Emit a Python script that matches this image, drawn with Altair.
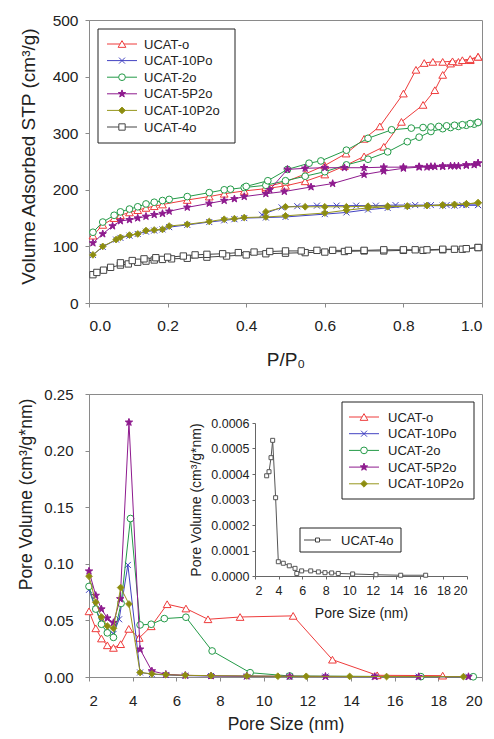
import altair as alt
import pandas as pd

# ---------------- data ----------------
names = ["UCAT-o", "UCAT-10Po", "UCAT-2o", "UCAT-5P2o", "UCAT-10P2o", "UCAT-4o"]

# Top panel: N2 isotherms (adsorption branch, desorption branch)
o_ads_p = [0.01, 0.035, 0.064, 0.08, 0.103, 0.124, 0.145, 0.166, 0.187, 0.25, 0.306, 0.344, 0.395, 0.45, 0.50, 0.55, 0.60, 0.65, 0.70, 0.75, 0.795, 0.85, 0.88, 0.90, 0.92, 0.94, 0.97, 0.99]
o_ads_v = [119, 138, 150, 155, 160, 164, 168, 171, 174, 182, 188, 193, 198, 202, 207, 215, 227, 242, 259, 276, 320, 350, 376, 403, 423, 426, 429, 435]
o_des_p = [0.99, 0.97, 0.95, 0.925, 0.90, 0.875, 0.853, 0.832, 0.80, 0.74, 0.70, 0.654, 0.60, 0.55, 0.50, 0.45]
o_des_v = [435, 431, 429, 427, 426, 426, 424, 412, 370, 312, 290, 264, 243, 228, 214, 205]

p10_ads_p = [0.01, 0.035, 0.069, 0.08, 0.103, 0.124, 0.145, 0.166, 0.187, 0.204, 0.25, 0.306, 0.344, 0.37, 0.395, 0.45, 0.50, 0.60, 0.655, 0.71, 0.76, 0.81, 0.86, 0.90, 0.93, 0.96, 0.99]
p10_ads_v = [85, 99, 112, 115, 119, 122, 126, 128, 130, 134, 138, 143, 146, 148, 150, 151, 152, 157, 160, 165, 168, 171, 172, 172, 172, 173, 173]
p10_des_p = [0.99, 0.95, 0.91, 0.87, 0.83, 0.78, 0.73, 0.68, 0.63, 0.58, 0.53, 0.49, 0.44]
p10_des_v = [173, 173, 173, 173, 173, 173, 172, 172, 172, 172, 171, 169, 156]

g_ads_p = [0.01, 0.035, 0.064, 0.08, 0.103, 0.124, 0.145, 0.166, 0.187, 0.204, 0.25, 0.306, 0.344, 0.36, 0.395, 0.45, 0.50, 0.55, 0.60, 0.655, 0.71, 0.76, 0.81, 0.84, 0.87, 0.90, 0.92, 0.94, 0.96, 0.98, 0.99]
g_ads_v = [125, 143, 155, 161, 166, 170, 175, 178, 181, 183, 188, 195, 200, 201, 204, 208, 216, 224, 232, 244, 254, 267, 285, 293, 303, 308, 310, 312, 314, 316, 319]
g_des_p = [0.99, 0.97, 0.95, 0.93, 0.91, 0.89, 0.87, 0.85, 0.82, 0.77, 0.71, 0.655, 0.59, 0.56, 0.505, 0.455, 0.40]
g_des_v = [319, 317, 315, 314, 313, 312, 311, 310, 309, 306, 291, 270, 251, 247, 236, 216, 206]

s_ads_p = [0.01, 0.035, 0.06, 0.08, 0.103, 0.124, 0.145, 0.166, 0.187, 0.204, 0.25, 0.306, 0.344, 0.37, 0.395, 0.45, 0.497, 0.565, 0.62, 0.70, 0.75, 0.80, 0.84, 0.86, 0.88, 0.90, 0.92, 0.94, 0.96, 0.98, 0.99]
s_ads_v = [106, 122, 136, 145, 147, 150, 153, 156, 158, 162, 169, 176, 181, 184, 188, 193, 197, 205, 211, 227, 233, 238, 240, 240, 241, 241, 242, 242, 243, 244, 247]
s_des_p = [0.99, 0.96, 0.93, 0.90, 0.87, 0.84, 0.80, 0.75, 0.70, 0.65, 0.60, 0.55, 0.505, 0.46]
s_des_v = [247, 244, 242, 242, 241, 241, 240, 240, 239, 239, 239, 238, 236, 200]

d_ads_p = [0.01, 0.035, 0.069, 0.08, 0.103, 0.124, 0.145, 0.166, 0.187, 0.204, 0.25, 0.306, 0.344, 0.37, 0.395, 0.45, 0.50, 0.60, 0.655, 0.71, 0.76, 0.81, 0.86, 0.90, 0.93, 0.96, 0.99]
d_ads_v = [85, 100, 112, 116, 120, 122, 128, 129, 130, 136, 139, 144, 148, 149, 151, 152, 154, 159, 164, 168, 170, 171, 172, 173, 174, 175, 177]
d_des_p = [0.99, 0.96, 0.93, 0.90, 0.86, 0.81, 0.76, 0.71, 0.655, 0.60, 0.55, 0.50, 0.45]
d_des_v = [177, 175, 174, 173, 172, 171, 171, 171, 170, 170, 170, 170, 161]

b_ads_p = [0.01, 0.02, 0.037, 0.055, 0.08, 0.10, 0.124, 0.145, 0.166, 0.187, 0.21, 0.25, 0.30, 0.35, 0.40, 0.45, 0.50, 0.55, 0.60, 0.65, 0.70, 0.75, 0.80, 0.85, 0.90, 0.95, 0.99]
b_ads_v = [50, 54, 58, 63, 67, 69, 72, 74, 76, 77, 78, 79, 81, 83, 85, 87, 88, 89, 90, 91, 92, 92, 93, 93, 94, 95, 98]
b_des_p = [0.99, 0.96, 0.93, 0.90, 0.86, 0.83, 0.80, 0.75, 0.70, 0.66, 0.62, 0.58, 0.54, 0.50, 0.46, 0.42, 0.38, 0.34, 0.30, 0.27, 0.24, 0.20, 0.17, 0.14, 0.11, 0.08]
b_des_v = [98, 96, 95, 95, 94, 94, 94, 94, 93, 93, 93, 93, 92, 92, 91, 90, 89, 87, 86, 85, 83, 81, 80, 78, 75, 71]

# Bottom panel: pore size distributions
psd_o_x = [2.0, 2.31, 2.57, 2.84, 3.12, 3.45, 3.82, 4.30, 4.85, 5.58, 6.44, 7.45, 8.92, 11.35, 13.15, 15.2, 18.2]
psd_o_y = [0.058, 0.043, 0.034, 0.028, 0.0257, 0.029, 0.0425, 0.0345, 0.0448, 0.0643, 0.0605, 0.051, 0.053, 0.054, 0.0153, 0.0015, 0.0012]
psd_10p_x = [2.0, 2.31, 2.57, 2.84, 3.12, 3.38, 3.78, 4.34, 4.88, 5.52, 6.41, 7.59, 9.23, 11.19, 12.83, 15.09, 17.1, 19.38]
psd_10p_y = [0.077, 0.060, 0.049, 0.043, 0.038, 0.051, 0.099, 0.004, 0.0025, 0.0018, 0.0012, 0.0009, 0.0006, 0.0005, 0.0004, 0.0003, 0.0003, 0.0002]
psd_2_x = [2.0, 2.31, 2.57, 2.84, 3.12, 3.47, 3.90, 4.34, 4.85, 5.45, 6.44, 7.64, 9.38, 11.19, 17.2, 19.6]
psd_2_y = [0.080, 0.060, 0.0466, 0.039, 0.035, 0.065, 0.140, 0.046, 0.0466, 0.0516, 0.0528, 0.023, 0.0038, 0.0009, 0.0003, 0.0002]
psd_5p2_x = [2.0, 2.31, 2.57, 2.84, 3.12, 3.43, 3.83, 4.34, 4.88, 5.52, 6.41, 7.59, 9.23, 11.19, 12.83, 15.09, 17.1, 19.38]
psd_5p2_y = [0.0935, 0.072, 0.060, 0.052, 0.048, 0.069, 0.225, 0.0245, 0.0053, 0.0024, 0.0015, 0.001, 0.0008, 0.0006, 0.0005, 0.0004, 0.0003, 0.0003]
psd_10p2_x = [2.0, 2.31, 2.57, 2.84, 3.12, 3.45, 3.83, 4.34, 4.88, 5.52, 6.41, 7.59, 9.23, 10.65, 11.95, 13.94, 15.63, 19.15]
psd_10p2_y = [0.089, 0.066, 0.053, 0.045, 0.043, 0.079, 0.0645, 0.004, 0.0028, 0.002, 0.0015, 0.0012, 0.0009, 0.0007, 0.0006, 0.0005, 0.0004, 0.0003]

# Inset: UCAT-4o
inset_x = [2.99, 3.19, 3.36, 3.50, 3.75, 3.98, 4.40, 4.91, 5.40, 5.55, 5.96, 6.73, 7.38, 7.94, 8.51, 9.07, 10.29, 12.27, 14.37, 16.49]
inset_y = [0.000393, 0.000409, 0.000464, 0.000532, 0.000307, 0.000056, 0.00005, 0.00004, 0.00003, 0.00001, 0.00002, 0.00002, 0.000016, 0.000013, 0.000012, 0.00001, 0.000008, 0.000005, 0.000003, 0.000003]

# ---------------- styles ----------------
FONT = "Liberation Sans"
TXT = "#222222"
AXC = "#8a8a8a"
STAR = "M0,-1L0.235,-0.324L0.951,-0.309L0.38,0.124L0.588,0.809L0,0.4L-0.588,0.809L-0.38,0.124L-0.951,-0.309L-0.235,-0.324Z"
XMARK = "M-1,-1L1,1M-1,1L1,-1"
colors = ["#EE3B3B", "#4343C2", "#239A47", "#8E1A8E", "#96961C", "#444444"]
shapes = ["triangle-up", XMARK, "circle", STAR, "diamond", "square"]
fills = ["white", "transparent", "white", "#8E1A8E", "#8C8C10", "white"]
sizes = [60, 36, 45, 60, 45, 40]

W, H = 393, 283


def point_mark(i, size=None):
    return dict(shape=shapes[i], filled=True, fill=fills[i], stroke=colors[i],
                strokeWidth=1, size=size if size else sizes[i], opacity=1)


one = pd.DataFrame({"k": [0]})


def legend(entries, box, xl, xs, xt, y0, dy, sym_sizes=None):
    lay = [alt.Chart(one).mark_rect(fill="white", stroke="#222222", strokeWidth=1).encode(
        x=alt.value(box[0]), x2=alt.value(box[1]), y=alt.value(box[2]), y2=alt.value(box[3]))]
    for j, i in enumerate(entries):
        y = y0 + j * dy
        lay.append(alt.Chart(one).mark_rule(color=colors[i], strokeWidth=1).encode(
            x=alt.value(xl[0]), x2=alt.value(xl[1]), y=alt.value(y)))
        sz = sym_sizes[j] if sym_sizes else None
        lay.append(alt.Chart(one).mark_point(**point_mark(i, sz)).encode(
            x=alt.value(xs), y=alt.value(y)))
        lay.append(alt.Chart(one).mark_text(text=names[i], align="left", baseline="middle",
                                            font=FONT, fontSize=13, color=TXT).encode(
            x=alt.value(xt), y=alt.value(y + 0.5)))
    return lay


# ---------------- top panel ----------------
top_sets = [(o_ads_p, o_ads_v, o_des_p, o_des_v),
            (p10_ads_p, p10_ads_v, p10_des_p, p10_des_v),
            (g_ads_p, g_ads_v, g_des_p, g_des_v),
            (s_ads_p, s_ads_v, s_des_p, s_des_v),
            (d_ads_p, d_ads_v, d_des_p, d_des_v),
            (b_ads_p, b_ads_v, b_des_p, b_des_v)]

tx = alt.X("p:Q", scale=alt.Scale(domain=[0, 1], nice=False, zero=False),
           axis=alt.Axis(values=[0, 0.2, 0.4, 0.6, 0.8, 1.0], format=".1f", title="P/P₀",
                         labelFontSize=15.5, titleFontSize=19, tickSize=4, labelPadding=11,
                         titleX=W / 2, titleY=62, titleBaseline="alphabetic", titleAlign="center"))
ty = alt.Y("v:Q", scale=alt.Scale(domain=[0, 500], nice=False),
           axis=alt.Axis(values=[0, 100, 200, 300, 400, 500], title="Volume Adsorbed STP (cm³/g)",
                         labelFontSize=15.5, titleFontSize=19, tickSize=4, labelPadding=7,
                         titleX=-55, titleY=136, titleAngle=270, titleBaseline="alphabetic",
                         titleAlign="center"))

top_layers = []
for i, (ap, av, dp, dv) in enumerate(top_sets):
    df = pd.DataFrame({"p": list(ap) + list(dp), "v": list(av) + list(dv)})
    df["o"] = range(len(df))
    base = alt.Chart(df)
    top_layers.append(base.mark_line(color=colors[i], strokeWidth=1).encode(x=tx, y=ty, order="o:Q"))
    top_layers.append(base.mark_point(**point_mark(i)).encode(x=tx, y=ty))
top_layers += legend(range(6), (9, 146, 9, 123), (18, 48), 33, 55, 24, 16.6)
top = alt.layer(*top_layers).properties(width=W, height=H)

# ---------------- bottom panel ----------------
bot_sets = [(psd_o_x, psd_o_y), (psd_10p_x, psd_10p_y), (psd_2_x, psd_2_y),
            (psd_5p2_x, psd_5p2_y), (psd_10p2_x, psd_10p2_y)]
bx = alt.X("d:Q", scale=alt.Scale(domain=[2, 20], nice=False, zero=False),
           axis=alt.Axis(values=list(range(2, 21, 2)), format="d", title="Pore Size (nm)",
                         labelFontSize=15, titleFontSize=17.5, tickSize=4, labelPadding=12,
                         titleX=W / 2, titleY=52, titleBaseline="alphabetic", titleAlign="center"))
by = alt.Y("pv:Q", scale=alt.Scale(domain=[0, 0.25], nice=False),
           axis=alt.Axis(values=[0, 0.05, 0.10, 0.15, 0.20, 0.25], format=".2f",
                         title="Pore Volume (cm³/g*nm)", labelFontSize=15, titleFontSize=17.5,
                         tickSize=4, labelPadding=12, titleX=-58, titleY=100, titleAngle=270,
                         titleBaseline="alphabetic", titleAlign="center"))
main_layers = []
for i, (xs, ys) in enumerate(bot_sets):
    df = pd.DataFrame({"d": xs, "pv": ys})
    base = alt.Chart(df)
    main_layers.append(base.mark_line(color=colors[i], strokeWidth=1).encode(x=bx, y=by))
    main_layers.append(base.mark_point(**point_mark(i)).encode(x=bx, y=by))
main_layers += legend(range(5), (253, 385, 8, 105), (260, 290), 275, 299, 23, 16.7)
main_layers += legend([5], (211, 312, 134, 158), (215, 242), 228.5, 252, 146, 0, sym_sizes=[16])

ix = alt.X("d:Q", scale=alt.Scale(domain=[2, 20], range=[166, 378], nice=False, zero=False),
           axis=alt.Axis(orient="bottom", offset=-101, values=list(range(2, 21, 2)), format="d",
                         title="Pore Size (nm)", labelFontSize=12.5, titleFontSize=14,
                         tickSize=3, labelPadding=5, domainColor="#666666", tickColor="#666666",
                         titleX=272, titleY=41, titleBaseline="alphabetic", titleAlign="center"))
iy = alt.Y("pv:Q", scale=alt.Scale(domain=[0, 0.0006], range=[182, 29], nice=False),
           axis=alt.Axis(orient="left", offset=-166, values=[0, 0.0001, 0.0002, 0.0003, 0.0004, 0.0005, 0.0006],
                         format=".4f", title="Pore Volume (cm³/g*nm)", labelFontSize=12.5,
                         titleFontSize=14, tickSize=3, labelPadding=3, domainColor="#666666",
                         tickColor="#666666", titleX=-55, titleY=105.5, titleAngle=270,
                         titleBaseline="alphabetic", titleAlign="center"))
idf = pd.DataFrame({"d": inset_x, "pv": inset_y})
inset = alt.layer(
    alt.Chart(idf).mark_line(color="#555555", strokeWidth=1).encode(x=ix, y=iy),
    alt.Chart(idf).mark_point(shape="square", filled=True, fill="white", stroke="#555555",
                              strokeWidth=1, size=16, opacity=1).encode(x=ix, y=iy),
)
bottom = alt.layer(alt.layer(*main_layers), inset).resolve_scale(
    x="independent", y="independent").properties(width=W, height=H)

chart = alt.vconcat(top, bottom, spacing=91, bounds="flush").properties(
    padding={"left": 8, "top": 4, "right": 0, "bottom": 0}
).configure(font=FONT).configure_view(stroke=AXC, strokeWidth=1).configure_axis(
    grid=False, labelFont=FONT, titleFont=FONT, labelColor=TXT, titleColor=TXT,
    titleFontWeight="normal", domainColor=AXC, tickColor=AXC, domainWidth=1, tickWidth=1)

chart.save("out.html", embed_options={"renderer": "svg", "actions": False})
